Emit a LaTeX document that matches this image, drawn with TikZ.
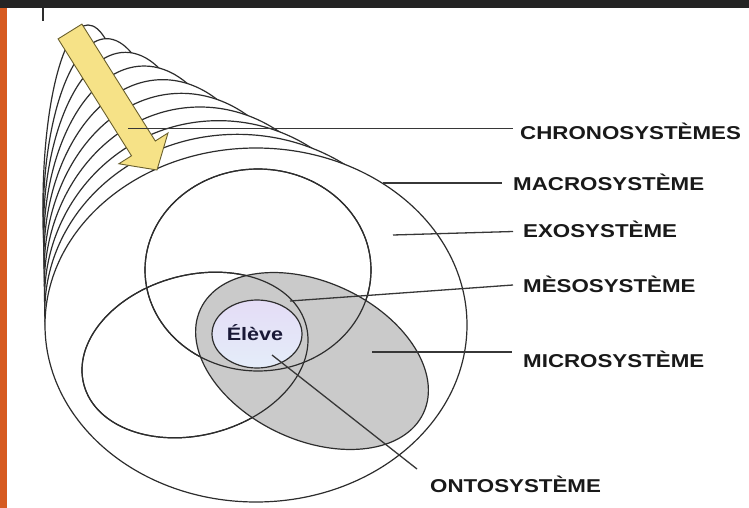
\documentclass[tikz,border=0pt]{standalone}
\usepackage{fontspec}
\newfontfamily\labfont[FakeStretch=1.2]{Liberation Sans}
\definecolor{linec}{RGB}{45,45,45}
\definecolor{leadc}{RGB}{55,55,55}
\definecolor{labc}{RGB}{25,25,25}
\definecolor{grayfill}{RGB}{202,202,202}
\definecolor{eltop}{RGB}{228,220,246}
\definecolor{elbot}{RGB}{228,237,249}
\definecolor{arrfill}{RGB}{246,226,135}
\definecolor{arrline}{RGB}{105,95,45}
\definecolor{topbar}{RGB}{36,36,36}
\definecolor{sidebar}{RGB}{214,90,32}
\definecolor{eleve}{RGB}{25,25,55}
\begin{document}
\begin{tikzpicture}[x=1pt,y=-1pt,
  outl/.style={draw=linec, line width=1.2pt},
  lead/.style={draw=leadc, line width=1.3pt},
  lab/.style={font=\labfont\bfseries\fontsize{18.6pt}{20pt}\selectfont, text=labc, anchor=base west, inner sep=0pt},
]
\useasboundingbox (0,0) rectangle (749,508);
\fill[white] (0,0) rectangle (749,508);
% slide frame bits
\fill[topbar] (0,0) rectangle (749,8);
\fill[sidebar] (0,8) rectangle (7,508);
\draw[linec, line width=1.6pt] (43,8) -- (43,21);
% chronosystem stack
\foreach \k in {9,8,...,1}{
  \pgfmathsetmacro\t{\k/9}
  \pgfmathsetmacro\cx{256-168*\t}
  \pgfmathsetmacro\cy{325-120*\t}
  \pgfmathsetmacro\rx{211-166*\t}
  \pgfmathsetmacro\ry{177+3*\t}
  \path[outl, fill=white] (\cx,\cy) ellipse [x radius=\rx, y radius=\ry];
}
% macrosystem
\path[outl, fill=white] (256,325) ellipse [x radius=211, y radius=177];
% exosystem
\path[outl] (258,270) ellipse [x radius=113, y radius=101];
% left microsystem
\path[outl] [rotate around={15:(195,355)}] (195,355) ellipse [x radius=115, y radius=80];
% gray microsystem
\path[outl, fill=grayfill] [rotate around={-25:(312,361)}] (312,361) ellipse [x radius=123, y radius=79];
% redraw outlines over the gray
\path[outl] (258,270) ellipse [x radius=113, y radius=101];
\path[outl] [rotate around={15:(195,355)}] (195,355) ellipse [x radius=115, y radius=80];
% eleve
\path[outl, top color=eltop, bottom color=elbot] (257,334) ellipse [x radius=45, y radius=34];
\node[font=\labfont\bfseries\fontsize{18pt}{20pt}\selectfont, text=eleve, inner sep=0pt, anchor=base] (el) at (255,340) {Élève};
% arrow
\path[fill=arrfill, draw=arrline, line width=0.9pt, line join=miter]
  (58.1,38.9) -- (81.9,24.1) -- (155.3,141.0) -- (168.0,133.0) -- (157,170)
  -- (118.8,163.8) -- (131.5,155.8) -- cycle;
% leader coordinates
\coordinate (c1) at (128,128.5);  \coordinate (c1e) at (513,128.5);
\coordinate (m1) at (383,183);    \coordinate (m1e) at (502,183);
\coordinate (x1) at (393,235);    \coordinate (x1e) at (513,231.5);
\coordinate (s1) at (290,301);    \coordinate (s1e) at (513,285);
\coordinate (i1) at (372,352);    \coordinate (i1e) at (512,352);
\coordinate (o1) at (272,355);    \coordinate (o1e) at (417,469);
\draw[lead] (c1) -- (c1e);
\draw[lead] (m1) -- (m1e);
\draw[lead] (x1) -- (x1e);
\draw[lead] (s1) -- (s1e);
\draw[lead] (i1) -- (i1e);
\draw[lead] (o1) -- (o1e);
% labels
\node[lab] (chrono) at (520,139.3) {CHRONOSYSTÈMES};
\node[lab] (macro) at (513,190.7) {MACROSYSTÈME};
\node[lab] (exo) at (523,237) {EXOSYSTÈME};
\node[lab] (meso) at (523,292) {MÈSOSYSTÈME};
\node[lab] (micro) at (523,367) {MICROSYSTÈME};
\node[lab] (onto) at (430,492) {ONTOSYSTÈME};
\end{tikzpicture}
\end{document}
